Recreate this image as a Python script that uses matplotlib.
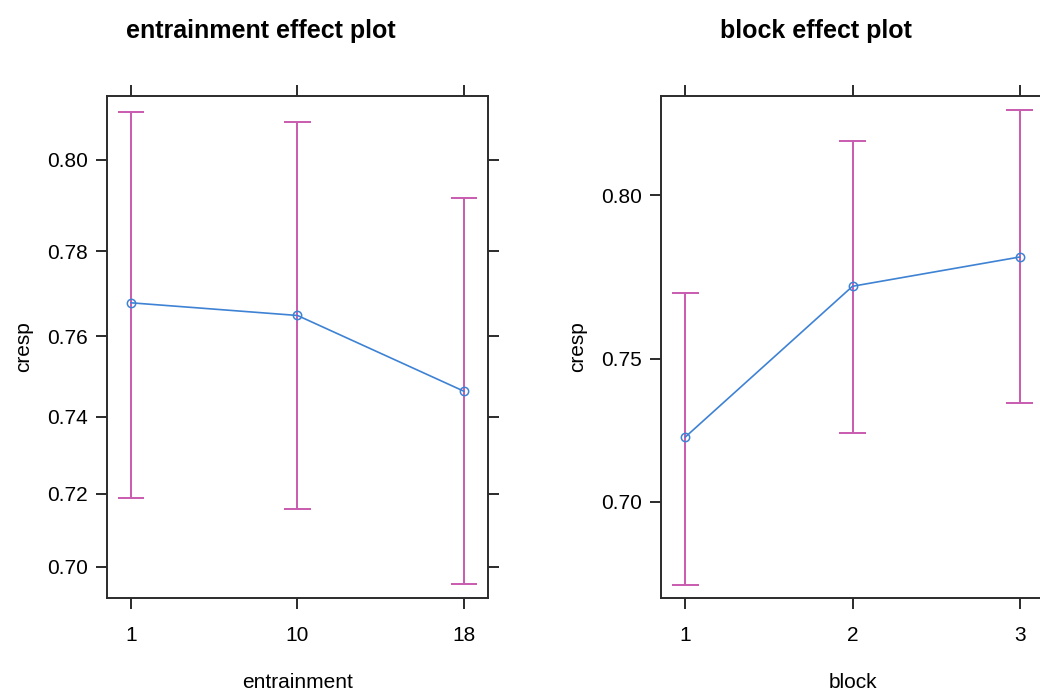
import numpy as np
import matplotlib
matplotlib.use("Agg")
import matplotlib.pyplot as plt
from matplotlib.ticker import FixedLocator, FixedFormatter, NullLocator

plt.rcParams['font.family'] = ['Liberation Sans', 'DejaVu Sans']

# entrainment effect (probability scale, drawn on logit axis)
entr_levels = ["1", "10", "18"]
entr_fit = [0.768, 0.765, 0.7465]
entr_lower = [0.7187, 0.7158, 0.6952]
entr_upper = [0.810, 0.8079, 0.7918]
entr_ticks = [0.70, 0.72, 0.74, 0.76, 0.78, 0.80]
entr_ylim = (0.6913, 0.8132)

# block effect
block_levels = ["1", "2", "3"]
block_fit = [0.7233, 0.7731, 0.7820]
block_lower = [0.6684, 0.7247, 0.7351]
block_upper = [0.7710, 0.8147, 0.8228]
block_ticks = [0.70, 0.75, 0.80]
block_ylim = (0.6633, 0.8264)

line_col = "#3E82D4"
ci_col = "#C95BB0"
box_col = "#2b2b2b"

fig = plt.figure(figsize=(10.4, 6.93), dpi=100)
ax1 = fig.add_axes([0.1029, 0.1371, 0.3663, 0.7244])
ax2 = fig.add_axes([0.6356, 0.1371, 0.3683, 0.7244])


def effect_panel(ax, levels, fit, lower, upper, ticks, ylim, title, xlabel):
    x = np.arange(1, len(levels) + 1)
    ax.set_yscale('logit')
    ax.plot(x, fit, color=line_col, lw=1.2, marker='o', ms=6,
            mfc='none', mec=line_col, mew=1.1, zorder=3)
    ax.vlines(x, lower, upper, color=ci_col, lw=1.4, zorder=2)
    ax.hlines(lower, x - 0.08, x + 0.08, color=ci_col, lw=1.4, zorder=2)
    ax.hlines(upper, x - 0.08, x + 0.08, color=ci_col, lw=1.4, zorder=2)
    ax.set_xlim(0.855, len(levels) + 0.145)
    ax.set_ylim(*ylim)
    ax.set_xticks(x)
    ax.set_xticklabels(levels)
    ax.yaxis.set_major_locator(FixedLocator(ticks))
    ax.yaxis.set_major_formatter(FixedFormatter(["%.2f" % t for t in ticks]))
    ax.yaxis.set_minor_locator(NullLocator())
    ax.tick_params(axis='both', direction='out', length=8, width=1.4,
                   color=box_col, labelsize=15,
                   top=True, right=True, labeltop=False, labelright=False)
    ax.tick_params(axis='x', pad=12)
    ax.tick_params(axis='y', pad=6)
    for s in ax.spines.values():
        s.set_color(box_col)
        s.set_linewidth(1.4)
    ax.set_ylabel("cresp", fontsize=15, labelpad=10)
    ax.set_xlabel(xlabel, fontsize=15, labelpad=20)
    ax.set_title(title, fontsize=18, fontweight='bold', x=0.405, pad=42)


effect_panel(ax1, entr_levels, entr_fit, entr_lower, entr_upper, entr_ticks,
             entr_ylim, "entrainment effect plot", "entrainment")
effect_panel(ax2, block_levels, block_fit, block_lower, block_upper, block_ticks,
             block_ylim, "block effect plot", "block")

fig.savefig("out.png", dpi=100)
